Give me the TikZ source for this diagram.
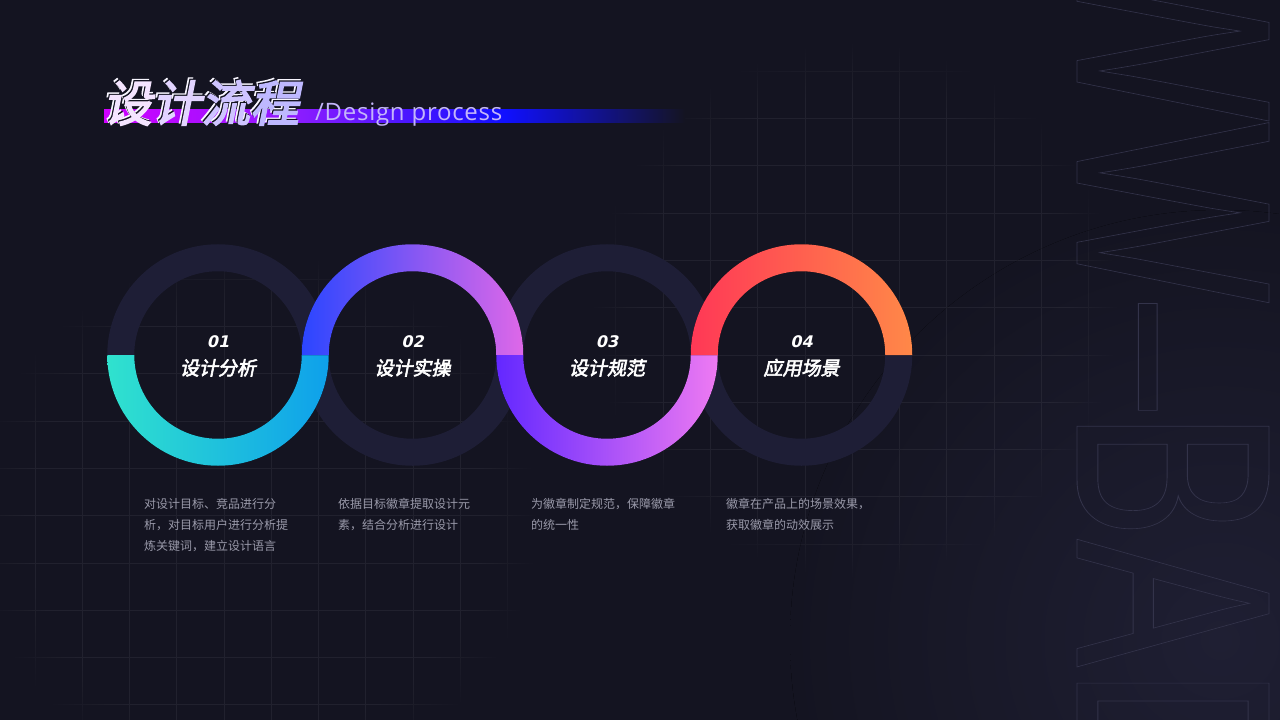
\documentclass[tikz,border=0pt]{standalone}
\usepackage{fontspec}
\usepackage{graphicx}
\usetikzlibrary{fadings}
\newfontfamily\cjk{Noto Sans CJK SC}
\newfontfamily\cjkhead{Noto Sans CJK SC}[FakeBold=3,FakeSlant=0.2]
\newfontfamily\numfont{DejaVu Sans}[FakeSlant=0.22]
\newfontfamily\latinfont{Open Sans}[LetterSpace=3]
\newfontfamily\bigfont{Liberation Sans}
\newcommand\outlinetext[1]{\special{pdf:literal direct 1 Tr 0.9 w}#1\special{pdf:literal direct 0 Tr}}
\definecolor{bgc}{HTML}{141421}
\definecolor{glowc}{HTML}{1F1F33}
\definecolor{ringdark}{HTML}{1E1E36}
\definecolor{desccol}{HTML}{9A9AAA}
\definecolor{outlinec}{HTML}{33334A}
\definecolor{r1a}{HTML}{30E2CE}\definecolor{r1b}{HTML}{0EA0EB}
\definecolor{r2a}{HTML}{2B46FF}\definecolor{r2b}{HTML}{DE68E8}
\definecolor{r3a}{HTML}{6328FF}\definecolor{r3b}{HTML}{EE7AF2}
\definecolor{r4a}{HTML}{FF3856}\definecolor{r4b}{HTML}{FF8848}
\definecolor{barA}{HTML}{D000FF}\definecolor{barB}{HTML}{8A1CFF}\definecolor{barC}{HTML}{1010FF}
\definecolor{tc1}{HTML}{F4E4FF}\definecolor{tc2}{HTML}{E2D4FF}\definecolor{tc3}{HTML}{CEC4FF}\definecolor{tc4}{HTML}{BEB8FF}
\definecolor{dpc}{HTML}{C4B6FA}
\tikzset{
  gridl/.style={draw=white, draw opacity=0.06, line width=0.8pt},
  ringbg/.style={draw=ringdark, line width=27pt},
  desc/.style={font=\cjk\fontsize{12}{12}\selectfont, text=desccol, anchor=base west, inner sep=0pt},
  lbl/.style={font=\cjkhead\fontsize{19}{19}\selectfont, text=white, anchor=base, inner sep=0pt},
  num/.style={font=\numfont\bfseries\fontsize{16}{16}\selectfont, text=white, anchor=base, inner sep=0pt},
  ttl/.style={font=\cjkhead\fontsize{49}{49}\selectfont, anchor=base west, inner sep=0pt},
}
\newcommand\lowerhalf[4]{% center x, color a, color b, name
  \fill[left color=#2, right color=#3] ({#1+110.75},-355) arc[start angle=0, end angle=-180, radius=110.75] -- ({#1-83.75},-355) arc[start angle=180, end angle=360, radius=83.75] -- cycle;}
\newcommand\upperhalf[4]{%
  \fill[left color=#2, right color=#3] ({#1+110.75},-355) arc[start angle=0, end angle=180, radius=110.75] -- ({#1-83.75},-355) arc[start angle=180, end angle=0, radius=83.75] -- cycle;}
\begin{document}
\begin{tikzpicture}[x=1pt,y=1pt]
\useasboundingbox (0,0) rectangle (1280,-720);
\clip (0,0) rectangle (1280,-720);
\fill[bgc] (0,0) rectangle (1280,-720);
\fill[inner color=glowc, outer color=bgc] (1220,-640) circle[radius=430];
% large outlined background lettering
\node[rotate=-90, anchor=base west, inner sep=0pt, outer sep=0pt, text=outlinec] (bigword) at (1077,60)
  {\scalebox{0.69}[1]{\bigfont\fontsize{279}{279}\selectfont\outlinetext{WW–BADGE}}};
% grids
\draw[gridl, path fading=circle with fuzzy edge 20 percent]
  \foreach \i in {0,...,10} { ({616+47.3*\i},-40) -- ({616+47.3*\i},-580) }
  \foreach \j in {0,...,10} { (590,{-71-47.3*\j}) -- (1120,{-71-47.3*\j}) };
\draw[gridl, path fading=circle with fuzzy edge 20 percent]
  \foreach \i in {0,...,11} { ({-12+47.3*\i},-250) -- ({-12+47.3*\i},-790) }
  \foreach \j in {0,...,10} { (-30,{-279-47.3*\j}) -- (540,{-279-47.3*\j}) };
% rings
\coordinate (c1) at (218,-355);
\coordinate (c2) at (412.5,-355);
\coordinate (c3) at (607,-355);
\coordinate (c4) at (801.5,-355);
\foreach \c in {c1,c2,c3,c4} { \draw[ringbg] (\c) circle[radius=97.25]; }
\lowerhalf{218}{r1a}{r1b}{h1}
\upperhalf{412.5}{r2a}{r2b}{h2}
\lowerhalf{607}{r3a}{r3b}{h3}
\upperhalf{801.5}{r4a}{r4b}{h4}
% labels in rings
\node[num] (n1) at (218,-347.5) {01};
\node[lbl] (l1) at (218,-375) {设计分析};
\node[num] (n2) at (412.5,-347.5) {02};
\node[lbl] (l2) at (412.5,-375) {设计实操};
\node[num] (n3) at (607,-347.5) {03};
\node[lbl] (l3) at (607,-375) {设计规范};
\node[num] (n4) at (801.5,-347.5) {04};
\node[lbl] (l4) at (801.5,-375) {应用场景};
% descriptions
\node[desc] (d1a) at (144,-508) {对设计目标、竞品进行分};
\node[desc] (d1b) at (144,-529.5) {析，对目标用户进行分析提};
\node[desc] (d1c) at (144,-550.5) {炼关键词，建立设计语言};
\node[desc] (d2a) at (338,-508) {依据目标徽章提取设计元};
\node[desc] (d2b) at (338,-529.5) {素，结合分析进行设计};
\node[desc] (d3a) at (531,-508) {为徽章制定规范，保障徽章};
\node[desc] (d3b) at (531,-529.5) {的统一性};
\node[desc] (d4a) at (726,-508) {徽章在产品上的场景效果，};
\node[desc] (d4b) at (726,-529.5) {获取徽章的动效展示};
% title bar
\fill[left color=barA, right color=barB] (104,-109) rectangle (300.5,-122.5);
\fill[left color=barB, right color=barC] (300,-109) rectangle (505.5,-122.5);
\fill[left color=barC, right color=bgc] (505,-109) rectangle (685,-122.5);
% title
\node[ttl, text=white!85!tc3] (tw) at (100.5,-119) {设计流程};
\node[ttl, text=bgc] (td) at (102,-120.3) {设计流程};
\node[ttl] (title) at (103,-121.5) {{\color{tc1}设}{\color{tc2}计}{\color{tc3}流}{\color{tc4}程}};
\node[anchor=base west, inner sep=0pt, font=\latinfont\fontsize{24}{24}\selectfont, text=dpc] (sub) at (315,-120.5) {/Design process};
\end{tikzpicture}
\end{document}
